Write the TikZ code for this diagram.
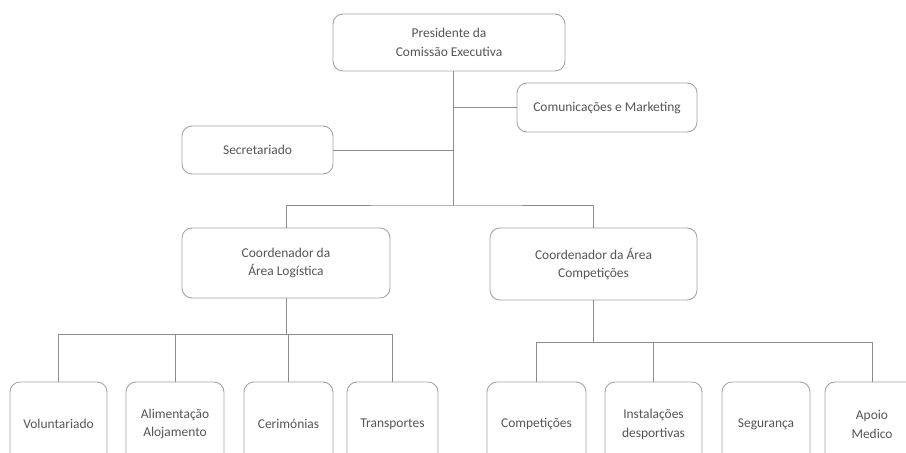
\documentclass[tikz,border=0pt]{standalone}
\usepackage{fontspec}
\setmainfont{Carlito}
\definecolor{boxline}{RGB}{165,165,165}
\definecolor{wire}{RGB}{140,140,140}
\definecolor{ink}{RGB}{85,85,85}
\begin{document}
\begin{tikzpicture}[x=1bp,y=-1bp,
  unit/.style={draw=boxline, line width=0.9bp, rounded corners=10bp, fill=white,
    text=ink, align=center, inner sep=0pt, font=\fontsize{13.5}{19}\selectfont},
  leaf/.style={unit, minimum height=84bp},
  link/.style={draw=wire, line width=0.9bp}]
\useasboundingbox (0,0) rectangle (906,453);
\clip (0,0) rectangle (906,453);
\fill[white] (0,0) rectangle (906,453);

% top level and staff units
\node[unit, minimum width=232bp, minimum height=57bp] (pres) at (449,42.5) {Presidente da\\Comissão Executiva};
\node[unit, minimum width=180bp, minimum height=49bp] (com) at (607,107.5) {Comunicações e Marketing};
\node[unit, minimum width=151bp, minimum height=48bp] (sec) at (257.5,150) {Secretariado};

% area coordinators
\node[unit, minimum width=208bp, minimum height=70bp] (logi) at (286,263) {Coordenador da\\Área Logística};
\node[unit, minimum width=207bp, minimum height=72bp] (comp) at (593.5,264) {Coordenador da Área\\Competições};

% logistics departments
\node[leaf, minimum width=97bp] (volu) at (58.5,424) {Voluntariado};
\node[leaf, minimum width=98bp] (alim) at (175,424) {Alimentação\\Alojamento};
\node[leaf, minimum width=89bp] (ceri) at (288.5,424) {Cerimónias};
\node[leaf, minimum width=91bp] (tran) at (392.5,424) {Transportes};

% competition departments
\node[leaf, minimum width=99bp] (cmpt) at (536.5,424) {Competições};
\node[leaf, minimum width=97bp] (inst) at (653.5,424) {Instalações\\desportivas};
\node[leaf, minimum width=88bp] (segu) at (766,424) {Segurança};
\node[leaf, minimum width=94bp] (apoi) at (872,424) {Apoio\\Medico};

% junction points
\coordinate (trunk) at (453,205);
\coordinate (lbus) at (0,334);
\coordinate (rbus) at (0,342);

% main trunk and staff branches
\draw[link] (pres.south -| trunk) -- (trunk);
\draw[link] (com.west) -- (com.west -| trunk);
\draw[link] (sec.east) -- (sec.east -| trunk);

% coordinators
\draw[link] (logi.north) |- (trunk) -| (comp.north);

% logistics bus
\draw[link] (logi.south) -- (logi.south |- lbus);
\draw[link] (volu.north) |- (lbus -| tran.north) -- (tran.north);
\draw[link] (alim.north) -- (alim.north |- lbus);
\draw[link] (ceri.north) -- (ceri.north |- lbus);

% competitions bus
\draw[link] (comp.south) -- (comp.south |- rbus);
\draw[link] (cmpt.north) |- (rbus -| apoi.north) -- (apoi.north);
\draw[link] (inst.north) -- (inst.north |- rbus);
\end{tikzpicture}
\end{document}
